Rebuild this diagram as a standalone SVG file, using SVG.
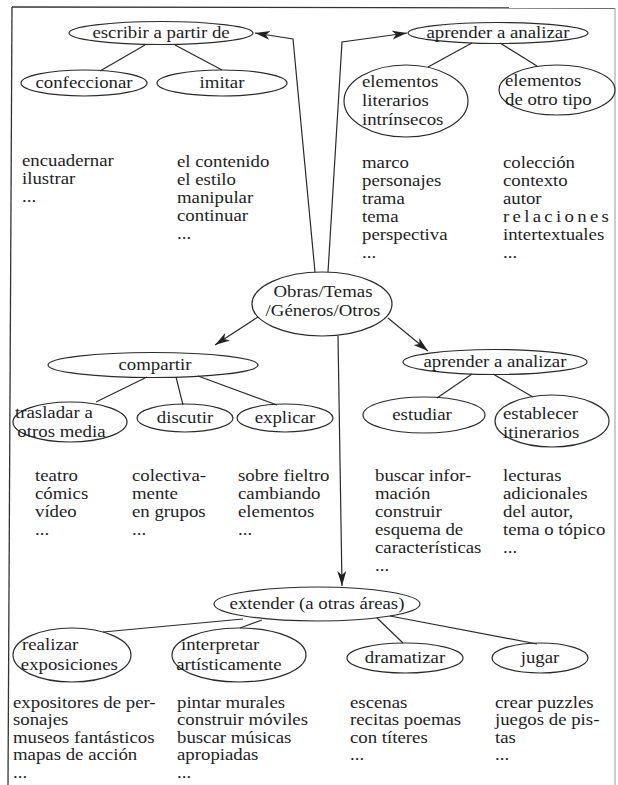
<svg xmlns="http://www.w3.org/2000/svg" width="618" height="785" viewBox="0 0 618 785">
<defs>
<style>
text{font-family:"Liberation Serif","Times New Roman",serif;font-size:15.8px;fill:#1e1e1e}
.c{text-anchor:middle}
ellipse{fill:none;stroke:#2a2a2a;stroke-width:1.2}
.ln{fill:none;stroke:#2a2a2a;stroke-width:1.2}
.fr{fill:none;stroke:#333;stroke-width:1.3}
</style>
<marker id="ah" markerUnits="userSpaceOnUse" markerWidth="16" markerHeight="10" viewBox="0 0 16 10" refX="15" refY="5" orient="auto">
<path d="M0,0.5 L15,5 L0,9.5 L4,5 Z" fill="#222"/>
</marker>
</defs>
<rect width="618" height="785" fill="#fff"/>
<g id="frame">
<path class="fr" d="M12,7 L615,8"/>
<path class="fr" d="M12,7 L8,785"/>
<path d="M615,8 L615,785" fill="none" stroke="#999" stroke-width="1"/>
</g>
<g id="connectors">
<path class="ln" d="M315,272 L293,39 L255,33" marker-end="url(#ah)"/>
<path class="ln" d="M328,272 L342,42 L407,33" marker-end="url(#ah)"/>
<path class="ln" d="M258,317 L215,345" marker-end="url(#ah)"/>
<path class="ln" d="M388,318 L428,351" marker-end="url(#ah)"/>
<path class="ln" d="M338,336 L342,586" marker-end="url(#ah)"/>
<path class="ln" d="M145,45 L100,71"/>
<path class="ln" d="M175,45 L222,70"/>
<path class="ln" d="M472,43 L428,67"/>
<path class="ln" d="M500,43 L537,66"/>
<path class="ln" d="M147,377 L96,402"/>
<path class="ln" d="M176,377 L183,405"/>
<path class="ln" d="M198,376 L277,405"/>
<path class="ln" d="M472,374 L437,398"/>
<path class="ln" d="M493,374 L533,397"/>
<path class="ln" d="M243,619 L103,632"/>
<path class="ln" d="M262,620 L240,628"/>
<path class="ln" d="M377,618 L403,643"/>
<path class="ln" d="M390,616 L537,644"/>
</g>
<g id="obras">
<ellipse cx="322" cy="304" rx="70" ry="32"/>
<text class="c" transform="translate(323 0) scale(1.19 1)" x="0" y="297">Obras/Temas<tspan x="0" dy="19">/Géneros/Otros</tspan></text>
</g>
<g id="escribir">
<ellipse cx="161" cy="33" rx="92" ry="11.5"/>
<text class="c" transform="translate(161 0) scale(1.19 1)" x="0" y="38">escribir a partir de</text>
</g>
<g id="confeccionar">
<ellipse cx="84" cy="83" rx="63" ry="13"/>
<text class="c" transform="translate(84 0) scale(1.19 1)" x="0" y="88">confeccionar</text>
<text transform="translate(22 0) scale(1.19 1)" x="0" y="166">encuadernar<tspan x="0" dy="18">ilustrar</tspan><tspan x="0" dy="18">...</tspan></text>
</g>
<g id="imitar">
<ellipse cx="222" cy="83" rx="65" ry="13"/>
<text class="c" transform="translate(222 0) scale(1.19 1)" x="0" y="88">imitar</text>
<text transform="translate(177 0) scale(1.19 1)" x="0" y="167">el contenido<tspan x="0" dy="18">el estilo</tspan><tspan x="0" dy="18">manipular</tspan><tspan x="0" dy="18">continuar</tspan><tspan x="0" dy="18">...</tspan></text>
</g>
<g id="aprender1">
<ellipse cx="498" cy="33" rx="90" ry="10.5"/>
<text class="c" transform="translate(498 0) scale(1.19 1)" x="0" y="38">aprender a analizar</text>
</g>
<g id="literarios">
<ellipse cx="406" cy="101" rx="62" ry="36"/>
<text transform="translate(362 0) scale(1.19 1)" x="0" y="87">elementos<tspan x="0" dy="19">literarios</tspan><tspan x="0" dy="19">intrínsecos</tspan></text>
<text transform="translate(362 0) scale(1.19 1)" x="0" y="168">marco<tspan x="0" dy="18">personajes</tspan><tspan x="0" dy="18">trama</tspan><tspan x="0" dy="18">tema</tspan><tspan x="0" dy="18">perspectiva</tspan><tspan x="0" dy="18">...</tspan></text>
</g>
<g id="otrotipo">
<ellipse cx="557" cy="90" rx="58" ry="25"/>
<text transform="translate(505 0) scale(1.19 1)" x="0" y="86">elementos<tspan x="0" dy="19">de otro tipo</tspan></text>
<text transform="translate(503 0) scale(1.19 1)" x="0" y="168">colección<tspan x="0" dy="18">contexto</tspan><tspan x="0" dy="18">autor</tspan><tspan x="0" dy="18" textLength="89" lengthAdjust="spacing">relaciones</tspan><tspan x="0" dy="18">intertextuales</tspan><tspan x="0" dy="18">...</tspan></text>
</g>
<g id="compartir">
<ellipse cx="153" cy="365" rx="105" ry="12.5"/>
<text class="c" transform="translate(155 0) scale(1.19 1)" x="0" y="370">compartir</text>
</g>
<g id="trasladar">
<ellipse cx="70" cy="422" rx="57" ry="20"/>
<text transform="translate(15 0) scale(1.19 1)" x="0" y="418">trasladar a<tspan x="2" dy="19">otros media</tspan></text>
<text transform="translate(35 0) scale(1.19 1)" x="0" y="481">teatro<tspan x="0" dy="18">cómics</tspan><tspan x="0" dy="18">vídeo</tspan><tspan x="0" dy="18">...</tspan></text>
</g>
<g id="discutir">
<ellipse cx="185" cy="418" rx="48" ry="14"/>
<text class="c" transform="translate(185 0) scale(1.19 1)" x="0" y="423">discutir</text>
<text transform="translate(132 0) scale(1.19 1)" x="0" y="481">colectiva-<tspan x="0" dy="18">mente</tspan><tspan x="0" dy="18">en grupos</tspan><tspan x="0" dy="18">...</tspan></text>
</g>
<g id="explicar">
<ellipse cx="285" cy="418" rx="48" ry="14"/>
<text class="c" transform="translate(285 0) scale(1.19 1)" x="0" y="423">explicar</text>
<text transform="translate(238 0) scale(1.19 1)" x="0" y="481">sobre fieltro<tspan x="0" dy="18">cambiando</tspan><tspan x="0" dy="18">elementos</tspan><tspan x="0" dy="18">...</tspan></text>
</g>
<g id="aprender2">
<ellipse cx="495" cy="362" rx="92" ry="12.5"/>
<text class="c" transform="translate(495 0) scale(1.19 1)" x="0" y="367">aprender a analizar</text>
</g>
<g id="estudiar">
<ellipse cx="424" cy="415" rx="61" ry="18"/>
<text class="c" transform="translate(422 0) scale(1.19 1)" x="0" y="420">estudiar</text>
<text transform="translate(375 0) scale(1.19 1)" x="0" y="481">buscar infor-<tspan x="0" dy="18">mación</tspan><tspan x="0" dy="18">construir</tspan><tspan x="0" dy="18">esquema de</tspan><tspan x="0" dy="18">características</tspan><tspan x="0" dy="18">...</tspan></text>
</g>
<g id="establecer">
<ellipse cx="552" cy="421" rx="57" ry="26"/>
<text transform="translate(503 0) scale(1.19 1)" x="0" y="419">establecer<tspan x="0" dy="19">itinerarios</tspan></text>
<text transform="translate(503 0) scale(1.19 1)" x="0" y="481">lecturas<tspan x="0" dy="18">adicionales</tspan><tspan x="0" dy="18">del autor,</tspan><tspan x="0" dy="18">tema o tópico</tspan><tspan x="0" dy="18">...</tspan></text>
</g>
<g id="extender">
<ellipse cx="317" cy="604" rx="103" ry="17"/>
<text class="c" transform="translate(317 0) scale(1.19 1)" x="0" y="609">extender (a otras áreas)</text>
</g>
<g id="realizar">
<ellipse cx="72" cy="655" rx="59" ry="27"/>
<text transform="translate(22 0) scale(1.19 1)" x="0" y="650">realizar<tspan x="-1" dy="20">exposiciones</tspan></text>
<text transform="translate(13 0) scale(1.19 1)" x="0" y="708">expositores de per-<tspan x="0" dy="17.5">sonajes</tspan><tspan x="0" dy="17.5">museos fantásticos</tspan><tspan x="0" dy="17.5">mapas de acción</tspan><tspan x="0" dy="17.5">...</tspan></text>
</g>
<g id="interpretar">
<ellipse cx="239" cy="655" rx="67" ry="27"/>
<text transform="translate(181 0) scale(1.19 1)" x="0" y="650">interpretar<tspan x="-4" dy="20">artísticamente</tspan></text>
<text transform="translate(177 0) scale(1.19 1)" x="0" y="708">pintar murales<tspan x="0" dy="17.5">construir móviles</tspan><tspan x="0" dy="17.5">buscar músicas</tspan><tspan x="0" dy="17.5">apropiadas</tspan><tspan x="0" dy="17.5">...</tspan></text>
</g>
<g id="dramatizar">
<ellipse cx="405" cy="658" rx="58" ry="15"/>
<text class="c" transform="translate(405 0) scale(1.19 1)" x="0" y="663">dramatizar</text>
<text transform="translate(350 0) scale(1.19 1)" x="0" y="708">escenas<tspan x="0" dy="17.5">recitas poemas</tspan><tspan x="0" dy="17.5">con títeres</tspan><tspan x="0" dy="17.5">...</tspan></text>
</g>
<g id="jugar">
<ellipse cx="540" cy="658" rx="48" ry="15"/>
<text class="c" transform="translate(540 0) scale(1.19 1)" x="0" y="663">jugar</text>
<text transform="translate(495 0) scale(1.19 1)" x="0" y="708">crear puzzles<tspan x="0" dy="17.5">juegos de pis-</tspan><tspan x="0" dy="17.5">tas</tspan><tspan x="0" dy="17.5">...</tspan></text>
</g>
</svg>
